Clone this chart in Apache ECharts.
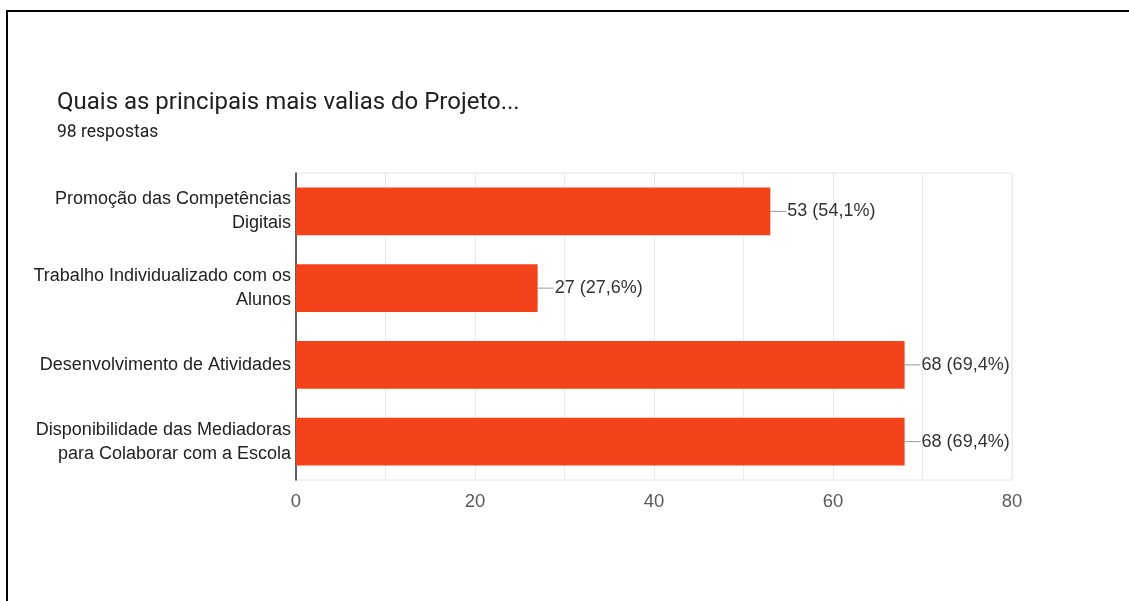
<!DOCTYPE html>
<html lang="pt">
<head>
    <meta charset="UTF-8"/>
    <script type="text/javascript" src="https://cdn.jsdelivr.net/npm/echarts@6/dist/echarts.min.js"></script>
    <title>Mais valias do Projeto</title>
    <style>
        html, body { margin: 0; padding: 0; background: #fff; }
        #frame { position: absolute; left: 6px; top: 10px; width: 1123px; height: 591px;
                 border-top: 2px solid #000; border-left: 2px solid #000; box-sizing: border-box; }
        #main { position: absolute; left: 0; top: 0; width: 1129px; height: 601px; }
    </style>
</head>
<body>
<div id="frame"></div>
<div id="main"></div>
<script type="text/javascript">
    // dados
    var categorias = [
        'Promoção das Competências\nDigitais',
        'Trabalho Individualizado com os\nAlunos',
        'Desenvolvimento de Atividades',
        'Disponibilidade das Mediadoras\npara Colaborar com a Escola'
    ]
    var respostas = [53, 27, 68, 68]
    var percentagens = ['54,1%', '27,6%', '69,4%', '69,4%']
    var totalRespostas = 98

    var myChart = echarts.init(document.getElementById('main'))

    var option = {
        backgroundColor: 'transparent',
        textStyle: { fontFamily: 'Liberation Sans' },
        title: {
            text: 'Quais as principais mais valias do Projeto...',
            subtext: totalRespostas + ' respostas',
            left: 52,
            top: 86,
            itemGap: 9,
            textStyle: { fontSize: 24, fontWeight: 'normal', color: '#202124', fontFamily: 'Roboto' },
            subtextStyle: { fontSize: 17.5, color: '#202124', fontFamily: 'Roboto' }
        },
        grid: {
            left: 296, top: 173, right: 117, bottom: 121,
            show: true, borderColor: '#e6e6e6', borderWidth: 1
        },
        xAxis: {
            type: 'value',
            min: 0, max: 80, interval: 20,
            axisLine: { show: false },
            axisTick: { show: false },
            axisLabel: { fontSize: 18.5, color: '#5a5a5a', margin: 12 },
            splitLine: { lineStyle: { color: '#ebebeb' } },
            minorTick: { show: false, splitNumber: 2 },
            minorSplitLine: { show: true, lineStyle: { color: '#ebebeb' } }
        },
        yAxis: {
            type: 'category',
            inverse: true,
            data: categorias,
            axisLine: { lineStyle: { color: '#333', width: 1.5 } },
            axisTick: { show: false },
            axisLabel: { fontSize: 18, color: '#222', lineHeight: 24, margin: 5, align: 'right' }
        },
        series: [{
            type: 'bar',
            data: respostas,
            barWidth: '62%',
            itemStyle: { color: '#f4421a' },
            label: {
                show: true,
                position: 'right',
                distance: 0,
                formatter: function (p) {
                    return '{l|}{t|' + p.value + ' (' + percentagens[p.dataIndex] + ')}'
                },
                rich: {
                    l: { width: 16, height: 1, backgroundColor: '#999' },
                    t: { fontSize: 18, color: '#333', padding: [0, 0, 0, 1] }
                }
            }
        }]
    }

    myChart.setOption(option)
</script>
</body>
</html>
